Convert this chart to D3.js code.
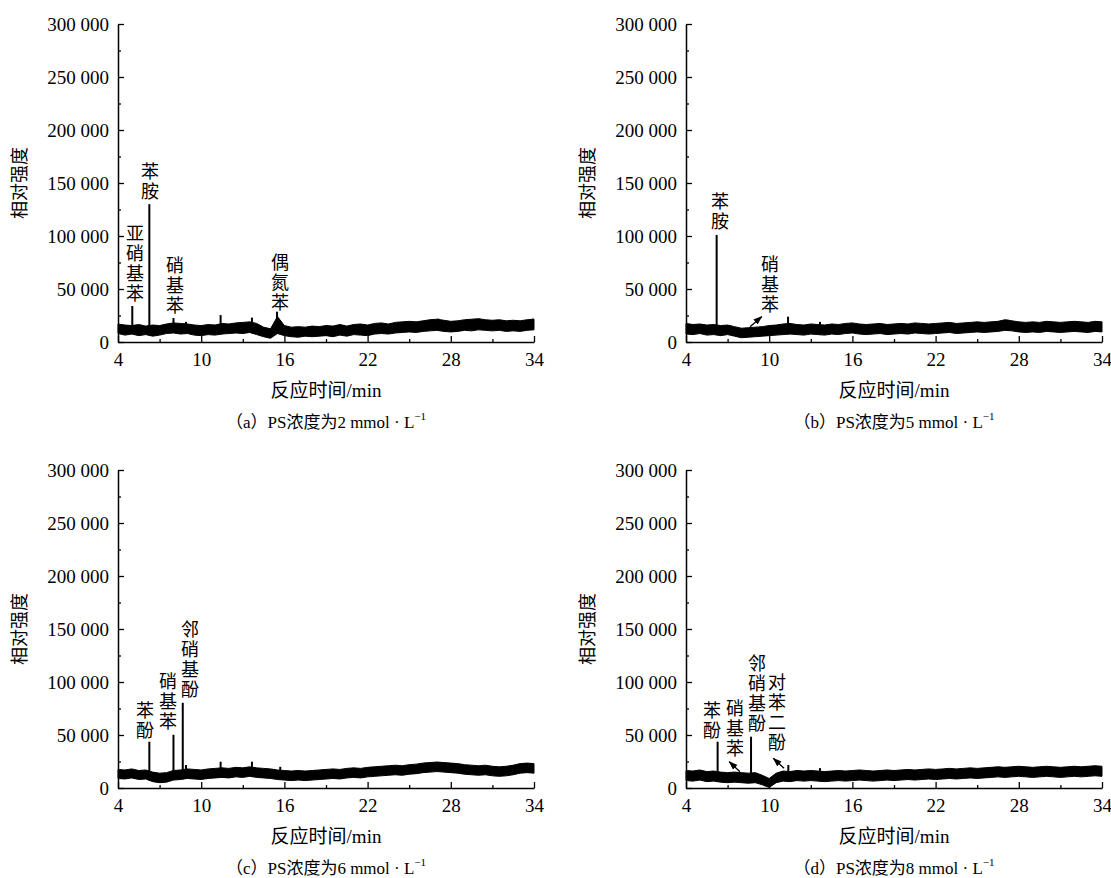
<!DOCTYPE html>
<html><head><meta charset="utf-8">
<script src="https://cdn.jsdelivr.net/npm/d3@7"></script>
<style>body{margin:0;background:#fff}svg{display:block}</style>
</head><body>
<svg id="chart" width="1111" height="878"></svg>
<script>
// ---------------- data ----------------
const timeGrid = d3.range(4, 34.001, 0.5);              // min, envelope sampling
const xMajorTicks = [4, 10, 16, 22, 28, 34];
const xMinorTicks = [7, 13, 19, 25, 31];
const yMajorTicks = [0, 50000, 100000, 150000, 200000, 250000, 300000];
const yMinorTicks = [25000, 75000, 125000, 175000, 225000, 275000];

const lowA = [8000,6500,7500,6000,7000,5500,6500,8000,8500,7500,8000,6500,6000,7000,6500,7500,8000,8500,8000,9000,7000,5000,3500,8000,6000,5000,4500,5500,5000,5500,6000,5000,6500,5500,7000,6500,6000,7500,8000,7500,8500,9000,9500,9000,10000,10500,11000,10000,9500,10000,11000,10500,11500,11000,10500,11000,10000,10500,10000,11000,11500];
const highA = [17000,16000,15500,16500,15000,16000,15500,17000,18000,17500,17000,16000,15500,16500,16000,17500,17000,18000,18500,19000,17500,14000,12500,24000,15500,14000,14500,14000,15000,14500,15500,15000,16500,15000,16500,17000,16000,17500,18000,17000,18500,19000,19500,19000,20000,21000,21500,20500,19500,20000,21000,21500,22000,21000,20500,21000,20000,20500,20000,21000,21500];
const lowB = [7500,7000,8000,6500,7000,6000,7000,5500,4000,4500,5000,5500,6000,6500,7000,7500,7000,6500,7500,7000,6500,7500,7000,8000,8500,7500,7000,7500,8000,7000,7500,8000,7500,8500,8000,7500,8000,8500,9000,8000,8500,9000,9500,9000,9500,10000,11000,10500,9500,9000,9500,9000,10000,9500,9000,9500,10000,9500,9000,10000,9500];
const highB = [17500,16500,17000,16000,16500,15500,16000,14500,13000,13500,14000,14500,15500,16000,17000,17500,16500,16000,17000,16500,16000,17000,16500,17500,18000,17000,16500,17000,17500,16500,17000,17500,17000,18000,17500,17000,17500,18000,18500,17500,18000,18500,19000,18500,19000,19500,21000,20000,19000,18500,19000,18500,19500,19000,18500,19000,19500,19000,18500,19500,19000];
const lowC = [9000,8500,9500,8000,8500,6000,5000,5500,7500,8000,9000,8500,8000,9000,9500,10000,9500,10500,10000,11000,10000,9500,9000,8000,7500,7000,7500,7000,7500,8000,8500,9000,8500,9500,10000,9500,10500,11000,11500,12000,12500,12000,13000,13500,14500,15000,15500,15000,14500,14000,13000,12500,12000,12500,11500,11000,11500,12500,14000,14500,14000];
const highC = [17500,17000,18000,16500,17000,15000,14000,14500,16500,17000,18000,17500,17000,18000,18500,19000,18500,19500,19000,20000,19000,18500,18000,17000,16500,16000,16500,16000,16500,17000,17500,18000,17500,18500,19000,18500,19500,20000,20500,21000,21500,21000,22000,22500,23500,24000,24500,24000,23500,23000,22000,21500,21000,21500,20500,20000,20500,21500,23000,23500,23000];
const lowD = [7000,6500,7500,6000,6500,5500,5000,5500,5000,4500,5000,3000,500,5000,6500,6000,7000,6500,7000,6500,6000,6500,7000,6500,7000,7500,7000,6500,7000,7500,7000,7500,8000,7500,8000,8500,8000,8500,9000,8500,9000,9500,9000,9500,10000,10500,10000,10500,11000,10500,10000,10500,11000,10500,10000,10500,11000,10500,11000,11500,11000];
const highD = [16500,16000,17000,15500,16000,15000,14500,15000,14500,14000,14500,12000,9000,14000,16000,15500,16500,16000,16500,16000,15500,16000,16500,16000,16500,17000,16500,16000,16500,17000,16500,17000,17500,17000,17500,18000,17500,18000,18500,18000,18500,19000,18500,19000,19500,20000,19500,20000,20500,20000,19500,20000,20500,20000,19500,20000,20500,20000,20500,21000,20500];

// spikes: [time (min), relative intensity]
const peaksA = [[5.03,34000],[6.26,130000],[8.0,22600],[8.9,19000],[11.4,25400],[13.66,23000],[15.47,28600],[27.1,22000],[33.9,22000]];
const peaksB = [[6.21,101000],[11.36,23900],[13.66,19000],[27.2,21000]];
const peaksC = [[6.26,43700],[8.0,50200],[8.67,80400],[8.9,21700],[11.4,24800],[13.66,24800],[15.7,20000]];
const peaksD = [[6.28,43700],[8.69,48400],[11.38,21700],[13.66,18800]];

// labels: [text, time, intensity of lowest character]
const labelsA = [["亚硝基苯",5.23,46200],["苯胺",6.31,142400],["硝基苯",8.11,34900],["偶氮苯",15.68,37700]];
const labelsB = [["苯胺",6.45,114100],["硝基苯",10.06,35800]];
const labelsC = [["苯酚",5.95,54700],["硝基苯",7.61,63200],["邻硝基酚",9.19,93400]];
const labelsD = [["苯酚",5.88,54700],["硝基苯",7.53,37700],["邻硝基酚",9.12,61300],["对苯二酚",10.56,43400]];

// arrows: [tailTime, tailValue, headTime, headValue]
const arrowsA = [];
const arrowsB = [[8.62,14400,9.46,23900]];
const arrowsC = [];
const arrowsD = [[7.89,15400,7.12,24800],[11.07,18600,10.3,28000]];

const captionLetters = ["a","b","c","d"];
const concentrations = [2, 5, 6, 8];
const xTitle = "反应时间/min";
const yTitle = "相对强度";

// ---------------- layout ----------------
const panels = [
  {left:118, top:24, low:lowA, high:highA, peaks:peaksA, labels:labelsA, arrows:arrowsA},
  {left:686, top:24, low:lowB, high:highB, peaks:peaksB, labels:labelsB, arrows:arrowsB},
  {left:118, top:470, low:lowC, high:highC, peaks:peaksC, labels:labelsC, arrows:arrowsC},
  {left:686, top:470, low:lowD, high:highD, peaks:peaksD, labels:labelsD, arrows:arrowsD}
];
const W = 416, H = 318;
const numFont = "'Liberation Serif', 'Times New Roman', serif";
const cjkFont = "'Liberation Serif', 'Noto Sans CJK SC', serif";
const LBL = 18, STEP = 20;

const svg = d3.select("#chart");
svg.append("defs").append("marker")
  .attr("id","arr").attr("viewBox","0 0 10 10").attr("refX",9).attr("refY",5)
  .attr("markerWidth",7).attr("markerHeight",7).attr("orient","auto")
  .append("path").attr("d","M0,1.5 L10,5 L0,8.5 Z").attr("fill","#000");

const fmt = v => d3.format(",")(v).replace(/,/g, " ");

panels.forEach((p, i) => {
  const g = svg.append("g").attr("transform", `translate(${p.left},${p.top})`);
  const x = d3.scaleLinear().domain([4, 34]).range([0, W]);
  const y = d3.scaleLinear().domain([0, 300000]).range([H, 0]);
  const lowInterp = d3.scaleLinear().domain(timeGrid).range(p.low);

  // baseline band
  const env = timeGrid.map((t, k) => ({t, lo: p.low[k], hi: p.high[k]}));
  g.append("path").datum(env)
    .attr("d", d3.area().x(d => x(d.t)).y0(d => y(d.lo)).y1(d => y(d.hi)))
    .attr("fill", "#000").attr("stroke", "#000").attr("stroke-width", 1);

  // peaks
  g.selectAll("line.pk").data(p.peaks).join("line").attr("class","pk")
    .attr("x1", d => x(d[0])).attr("x2", d => x(d[0]))
    .attr("y1", d => y(lowInterp(d[0]))).attr("y2", d => y(d[1]))
    .attr("stroke", "#000").attr("stroke-width", 2);

  // axes
  const ax = g.append("g").attr("transform", `translate(0,${H})`)
    .call(d3.axisBottom(x).tickValues(xMajorTicks).tickSizeInner(-6).tickSizeOuter(0).tickPadding(11).tickFormat(d3.format("d")));
  g.append("g").attr("transform", `translate(0,${H})`)
    .call(d3.axisBottom(x).tickValues(xMinorTicks).tickSizeInner(-3).tickSizeOuter(0).tickFormat(""))
    .select(".domain").remove();
  const ay = g.append("g")
    .call(d3.axisLeft(y).tickValues(yMajorTicks).tickSizeInner(-6).tickSizeOuter(0).tickPadding(9).tickFormat(fmt));
  g.append("g")
    .call(d3.axisLeft(y).tickValues(yMinorTicks).tickSizeInner(-3).tickSizeOuter(0).tickFormat(""))
    .select(".domain").remove();
  g.selectAll(".domain").attr("stroke-width", 1.5);
  g.selectAll(".tick line").attr("stroke-width", 1.3);
  [ax, ay].forEach(a => a.selectAll("text").attr("font-family", numFont).attr("font-size", 19).attr("fill","#000"));

  // axis titles
  g.append("text").attr("x", W/2).attr("y", H + 48).attr("text-anchor","middle")
    .attr("dominant-baseline","central").attr("font-family", cjkFont).attr("font-size", 19).text(xTitle);
  g.append("text").attr("transform", `translate(${-98},${H/2}) rotate(-90)`).attr("text-anchor","middle")
    .attr("dominant-baseline","central").attr("font-family", cjkFont).attr("font-size", 18).text(yTitle);

  // caption
  const cap = g.append("text").attr("x", W/2).attr("y", H + 80).attr("text-anchor","middle")
    .attr("dominant-baseline","central").attr("font-family", cjkFont).attr("font-size", 17);
  cap.append("tspan").text(`（${captionLetters[i]}）PS浓度为${concentrations[i]} mmol · L`);
  cap.append("tspan").attr("font-size", 11).attr("dy", -6).text("−1");

  // peak labels: vertical CJK text, one text element per label
  p.labels.forEach(([txt, t, v]) => {
    const n = Array.from(txt).length;
    const topY = y(v) - (n - 1) * STEP - LBL / 2;
    g.append("text").attr("x", x(t)).attr("y", topY)
      .attr("writing-mode", "vertical-rl")
      .style("text-orientation", "upright")
      .attr("text-anchor", "start")
      .attr("letter-spacing", STEP - LBL)
      .attr("font-family", "'Noto Sans CJK SC', sans-serif").attr("font-size", LBL).attr("fill","#000").text(txt);
  });

  // arrows
  g.selectAll("line.ar").data(p.arrows).join("line").attr("class","ar")
    .attr("x1", d => x(d[0])).attr("y1", d => y(d[1]))
    .attr("x2", d => x(d[2])).attr("y2", d => y(d[3]))
    .attr("stroke","#000").attr("stroke-width",1.3).attr("marker-end","url(#arr)");
});
</script>
</body></html>
